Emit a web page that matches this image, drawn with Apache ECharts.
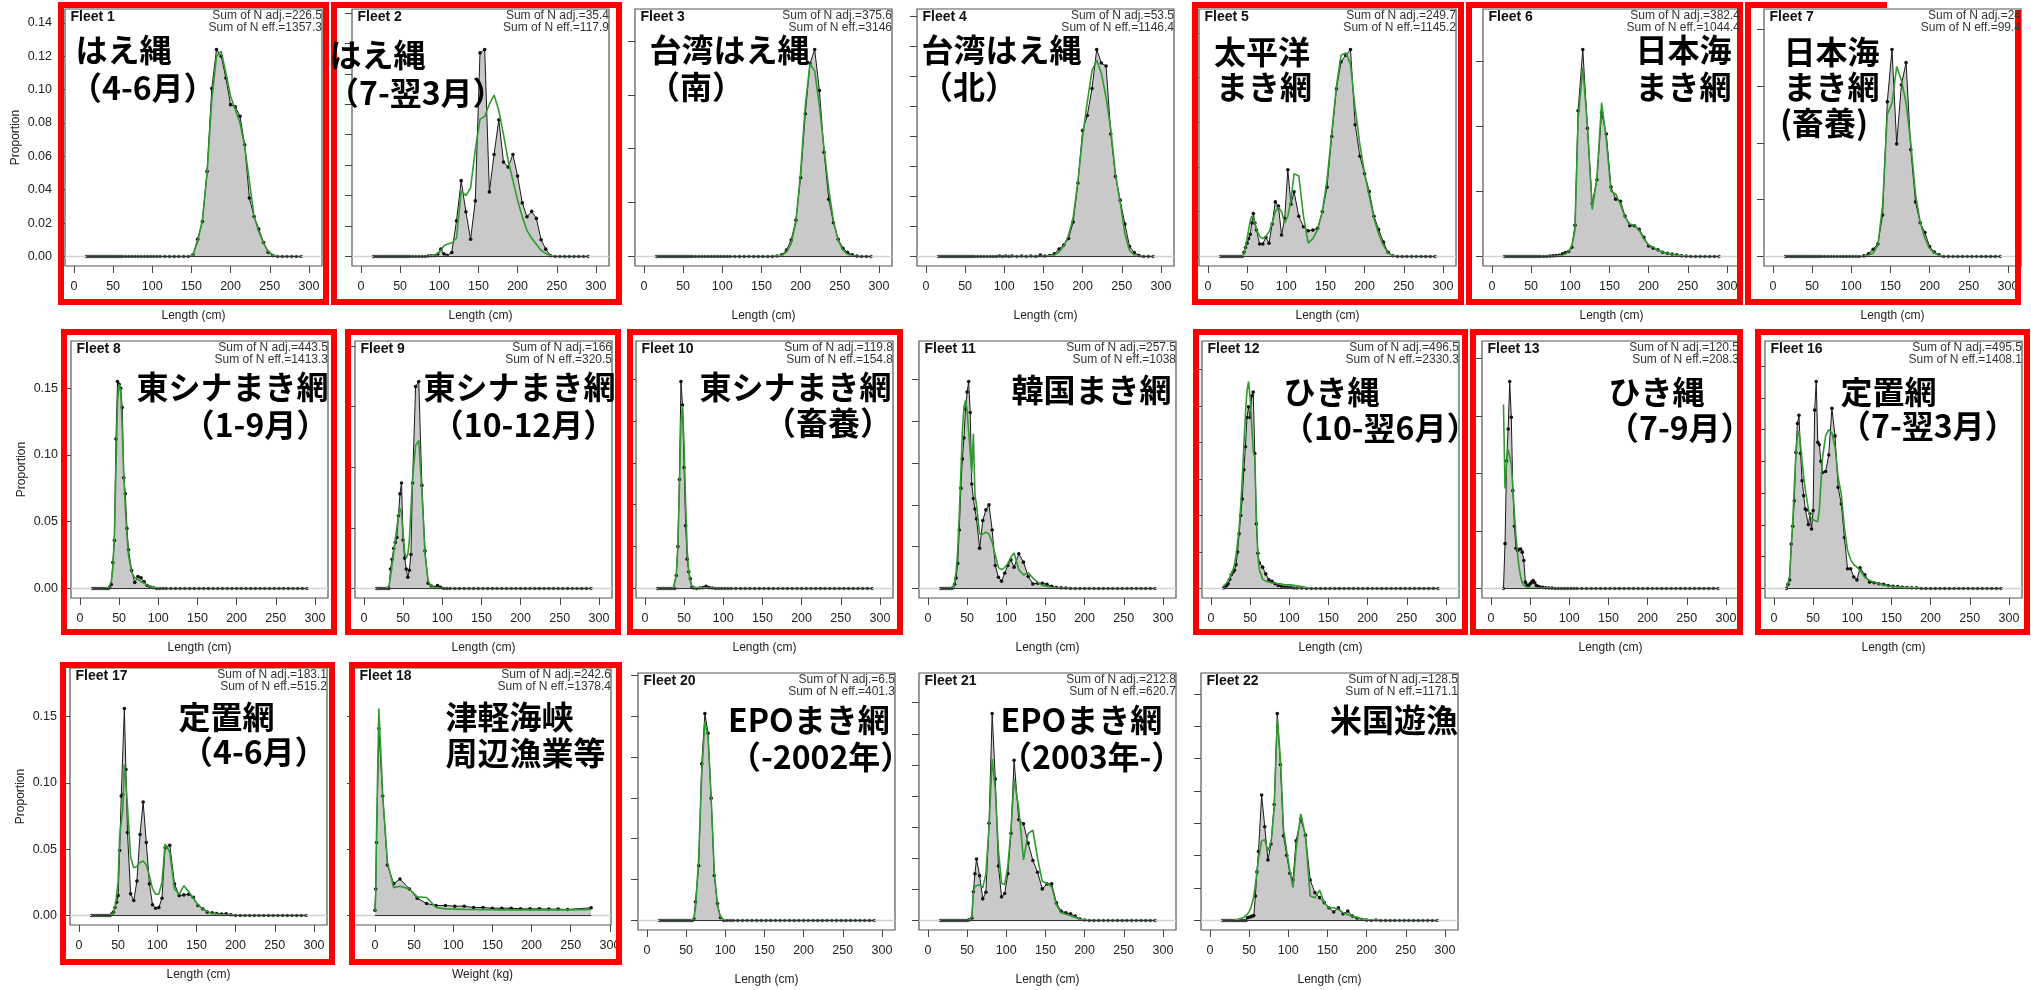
<!DOCTYPE html>
<html>
<head>
<meta charset="utf-8">
<script src="https://cdn.jsdelivr.net/npm/echarts@6.0.0/dist/echarts.min.js"></script>
<style>
  html, body { margin: 0; padding: 0; background: #fff; }
  #chart { width: 2031px; height: 990px; }
</style>
</head>
<body>
<div id="chart"></div>
<script>
// length bins (cm): 2cm to 62, 4cm to 106, 6cm to 290
const lenBins = [16,18,20,22,24,26,28,30,32,34,36,38,40,42,44,46,48,50,52,54,56,58,60,62,
  66,70,74,78,82,86,90,94,98,102,106,
  110,116,122,128,134,140,146,152,158,164,170,176,182,188,194,200,206,212,218,224,230,236,242,248,254,260,266,272,278,284,290];
// weight bins (kg) for fleet 18
const wtBins = [0,1,2,5,10,16,24,32,44,54,66,78,90,102,114,126,138,150,162,174,186,198,210,222,234,246,276];
const xTickValues = [0, 50, 100, 150, 200, 250, 300];

// observed / expected proportions, one pair per fleet
const obsF1 = [0,0,0,0,0,0,0,0,0,0, 0,0,0,0,0,0,0,0,0,0, 0,0,0,0,
  0,0,0,0,0,0,0,0,0,0,0,
  0,0,0,0,0,0,0,0.001,0.0104,0.021,0.051,0.1007,0.124,0.12,0.107,0.091,0.0897,0.084,0.067,0.035,0.024,0.0164,0.0084,0.0026,0.0005,0,0,0,0,0,0];
const expF1 = [0,0,0,0,0,0,0,0,0,0, 0,0,0,0,0,0,0,0,0,0, 0,0,0,0,
  0,0,0,0,0,0,0,0,0,0,0,
  0,0,0,0,0,0,0,0.001,0.009,0.022,0.05,0.094,0.12,0.123,0.11,0.096,0.088,0.08,0.066,0.045,0.024,0.015,0.008,0.003,0.001,0,0,0,0,0,0];

const obsF2 = [0,0,0,0,0,0,0,0,0,0, 0,0,0,0,0,0,0,0,0,0, 0,0,0,0,
  0,0,0,0,0,0.0003,0.0005,0.0005,0.0015,0.0048,0.0017,
  0.0007,0.0026,0.0235,0.0498,0.0293,0.0113,0.0365,0.1337,0.1359,0.0424,0.067,0.0898,0.062,0.0587,0.067,0.0528,0.0352,0.0261,0.0296,0.025,0.011,0.0048,0.0005,0,0,0,0,0,0,0,0];
const expF2 = [0,0,0,0,0,0,0,0,0,0, 0,0,0,0,0,0,0,0,0,0, 0,0,0,0,
  0,0,0,0,0,0,0.0005,0.001,0.002,0.004,0.007,
  0.008,0.009,0.012,0.043,0.04,0.045,0.07,0.09,0.092,0.1,0.106,0.096,0.08,0.063,0.05,0.037,0.026,0.017,0.012,0.008,0.004,0.002,0.0005,0,0,0,0,0,0,0,0];

const obsF3 = [0,0,0,0,0,0,0,0,0,0, 0,0,0,0,0,0,0,0,0,0, 0,0,0,0,
  0,0,0,0,0,0,0,0,0,0,0,
  0,0,0,0,0,0,0,0,0,0,0.0005,0.0015,0.006,0.0153,0.0337,0.073,0.1325,0.179,0.192,0.154,0.0966,0.053,0.0313,0.016,0.0077,0.0037,0.0015,0.0003,0,0,0];
const expF3 = [0,0,0,0,0,0,0,0,0,0, 0,0,0,0,0,0,0,0,0,0, 0,0,0,0,
  0,0,0,0,0,0,0,0,0,0,0,
  0,0,0,0,0,0,0,0,0,0,0.0005,0.001,0.004,0.012,0.032,0.078,0.14,0.179,0.172,0.14,0.1,0.062,0.033,0.015,0.006,0.002,0.0005,0,0,0,0];

const obsF4 = [0,0,0,0,0,0,0,0,0,0, 0,0,0,0,0,0,0,0,0,0, 0,0,0,0,
  0,0,0,0,0,0,0,0.0003,0,0.0003,0,
  0.0003,0,0.0003,0,0.0003,0,0.001,0.0003,0.0007,0.0018,0.005,0.0077,0.012,0.023,0.049,0.084,0.094,0.112,0.138,0.129,0.127,0.0817,0.0534,0.0375,0.0216,0.0066,0.0026,0.0007,0,0,0];
const expF4 = [0,0,0,0,0,0,0,0,0,0, 0,0,0,0,0,0,0,0,0,0, 0,0,0,0,
  0,0,0,0,0,0,0,0,0,0,0,
  0,0,0,0,0,0,0,0,0.0005,0.001,0.003,0.007,0.014,0.026,0.05,0.08,0.103,0.124,0.131,0.122,0.106,0.085,0.055,0.036,0.015,0.004,0.001,0,0,0,0];

const obsF5 = [0,0,0,0,0,0,0,0,0,0, 0,0,0,0,0,0.0019,0.004,0.0059,0.008,0.0099,0.015,0.0192,0.015,0.0118,
  0.0056,0.0056,0.0086,0.0059,0.0145,0.0244,0.0225,0.0096,0.017,0.0388,0.0234,
  0.0289,0.018,0.0133,0.0115,0.0118,0.0126,0.02,0.031,0.0536,0.075,0.087,0.09,0.0925,0.0589,0.0448,0.037,0.029,0.018,0.012,0.0064,0.0019,0.0003,0,0,0,0,0,0,0,0,0];
const expF5 = [0,0,0,0,0,0,0,0,0,0, 0,0,0,0,0,0.001,0.004,0.008,0.012,0.016,0.018,0.017,0.015,0.012,
  0.009,0.008,0.009,0.011,0.015,0.02,0.022,0.02,0.015,0.018,0.025,
  0.037,0.036,0.018,0.006,0.008,0.012,0.02,0.034,0.055,0.076,0.09,0.091,0.086,0.066,0.05,0.037,0.027,0.017,0.01,0.005,0.0015,0.0003,0,0,0,0,0,0,0,0,0];

const obsF6 = [0,0,0,0,0,0,0,0,0,0, 0,0,0,0,0,0,0,0,0,0, 0,0,0,0,
  0,0,0.0003,0.0005,0.0008,0.001,0.002,0.003,0.0038,0.007,0.024,
  0.1118,0.1588,0.0983,0.0406,0.0589,0.1105,0.094,0.0533,0.044,0.0424,0.031,0.0236,0.0236,0.0208,0.0147,0.0081,0.0064,0.0051,0.0033,0.0025,0.0018,0.0013,0.0005,0.0003,0,0,0,0,0,0,0];
const expF6 = [0,0,0,0,0,0,0,0,0,0, 0,0,0,0,0,0,0,0,0,0, 0,0,0,0,
  0,0,0,0,0,0.0005,0.001,0.002,0.004,0.008,0.02,
  0.105,0.145,0.1,0.036,0.06,0.118,0.09,0.05,0.048,0.04,0.03,0.025,0.024,0.02,0.0135,0.009,0.007,0.005,0.0035,0.0025,0.0018,0.0012,0.0006,0.0003,0,0,0,0,0,0,0];

const obsF7 = [0,0,0,0,0,0,0,0,0,0, 0,0,0,0,0,0,0,0,0,0, 0,0,0,0,
  0,0,0,0,0,0,0,0,0,0,0,
  0,0.0005,0.0023,0.0064,0.011,0.0364,0.136,0.182,0.099,0.151,0.1705,0.094,0.048,0.0297,0.021,0.0087,0.0038,0.0015, 0,0,0,0,0,0,0,0,0,0,0,0,0];
const expF7 = [0,0,0,0,0,0,0,0,0,0, 0,0,0,0,0,0,0,0,0,0, 0,0,0,0,
  0,0,0,0,0,0,0,0,0,0,0,
  0,0,0.001,0.003,0.01,0.045,0.125,0.135,0.167,0.155,0.135,0.1,0.055,0.03,0.016,0.007,0.003,0.001, 0,0,0,0,0,0,0,0,0,0,0,0,0];

const obsF8 = [0,0,0,0,0,0,0,0,0,0,0,0.0005,0.003,0.0195,0.036,0.112,0.155,0.153,0.15,0.1355,0.083,0.071,0.045,0.029,
  0.0135,0.0045,0.009,0.008,0.005,0.0022,0.001,0.0005,0,0,0,
  0,0,0,0,0,0,0,0,0,0, 0,0,0,0,0,0,0,0,0,0, 0,0,0,0,0,0,0,0,0,0, 0];
const expF8 = [0,0,0,0,0,0,0,0,0,0,0.0005,0.001,0.005,0.015,0.04,0.09,0.14,0.153,0.148,0.12,0.085,0.06,0.04,0.025,
  0.012,0.008,0.007,0.005,0.004,0.0025,0.0015,0.001,0.0005,0.0002,0,
  0,0,0,0,0,0,0,0,0,0, 0,0,0,0,0,0,0,0,0,0, 0,0,0,0,0,0,0,0,0,0, 0];

const obsF9 = [0,0,0,0,0,0,0,0,0,0.016,0.024,0.033,0.038,0.042,0.06,0.078,0.087,0.04,0.025,0.016,0.0093,0.015,0.028,0.087,
  0.1665,0.1706,0.085,0.031,0.0044,0.002,0.001,0.0025,0.001,0,0,
  0,0,0,0,0,0,0,0,0,0, 0,0,0,0,0,0,0,0,0,0, 0,0,0,0,0,0,0,0,0,0, 0];
const expF9 = [0,0,0,0,0,0,0,0.0005,0.002,0.01,0.02,0.03,0.04,0.05,0.06,0.066,0.062,0.045,0.03,0.025,0.028,0.04,0.065,0.09,
  0.118,0.122,0.08,0.028,0.006,0.002,0.001,0.0005,0,0,0,
  0,0,0,0,0,0,0,0,0,0, 0,0,0,0,0,0,0,0,0,0, 0,0,0,0,0,0,0,0,0,0, 0];

const obsF10 = [0,0,0,0,0,0,0,0,0,0,0,0,0.0155,0.05,0.13,0.247,0.219,0.1445,0.075,0.035,0.02,0.0115,0.0016,0.0005,
  0,0.0005,0.001,0.0025,0.001,0.0005,0,0,0,0,0,
  0,0,0,0,0,0,0,0,0,0, 0,0,0,0,0,0,0,0,0,0, 0,0,0,0,0,0,0,0,0,0, 0];
const expF10 = [0,0,0,0,0,0,0,0,0,0,0,0.002,0.015,0.05,0.12,0.2,0.218,0.17,0.1,0.045,0.02,0.008,0.003,0.001,
  0.0005,0.0005,0.0005,0.0005,0.0003,0.0002,0,0,0,0,0,
  0,0,0,0,0,0,0,0,0,0, 0,0,0,0,0,0,0,0,0,0, 0,0,0,0,0,0,0,0,0,0, 0];

const obsF11 = [0,0,0,0,0,0,0,0,0.0003,0.002,0.005,0.012,0.028,0.048,0.062,0.072,0.0858,0.094,0.099,0.0842,0.05,0.043,0.038,0.0333,
  0.0193,0.0325,0.0376,0.04,0.028,0.011,0.0054,0.0035,0.0073,0.011,0.0137,
  0.0102,0.0166,0.0126,0.0057,0.0022,0.0025,0.0025,0.002,0.001,0.0005,0.0003,0.0002, 0,0,0,0,0,0,0,0,0,0, 0,0,0,0,0,0,0,0,0];
const expF11 = [0,0,0,0,0,0,0,0,0,0.003,0.008,0.018,0.035,0.055,0.075,0.087,0.09,0.085,0.075,0.065,0.055,0.074,0.045,0.04,
  0.026,0.026,0.027,0.026,0.022,0.016,0.01,0.009,0.01,0.012,0.015,
  0.017,0.009,0.0065,0.0075,0.005,0.003,0.0015,0.001,0.0005,0.0002, 0,0,0,0,0,0,0,0,0,0, 0,0,0,0,0,0,0,0,0,0, 0];

const obsF12 = [0.0003,0.0005,0.0015,0.0026,0.005,0.0075,0.0089,0.01,0.013,0.02,0.03,0.04,0.049,0.065,0.0777,0.0937,0.0995,0.0937,0.1056,0.1077,0.074,0.0354,0.0193,0.014,
  0.0117,0.008,0.0047,0.004,0.0026,0.0016,0.0011,0.0008,0.0006,0.0005,0.0003,
  0.0003,0.0002, 0,0,0,0,0,0,0,0,0,0, 0,0,0,0,0,0,0,0,0,0, 0,0,0,0,0,0,0,0,0];
const expF12 = [0.0015,0.002,0.003,0.004,0.006,0.008,0.01,0.013,0.018,0.025,0.033,0.045,0.06,0.078,0.095,0.108,0.1134,0.105,0.09,0.075,0.072,0.04,0.018,0.01,
  0.005,0.004,0.0035,0.003,0.003,0.0025,0.0025,0.002,0.002,0.002,0.0018,
  0.0015,0.001,0.0005, 0,0,0,0,0,0,0,0,0,0, 0,0,0,0,0,0,0,0,0,0, 0,0,0,0,0,0,0,0];

const obsF13 = [0,0.039,0.111,0.1387,0.18,0.149,0.0851,0.0541,0.035,0.033,0.034,0.0344,0.0316,0.0243,0.0055,0.003,0.0026,0.004,0.0055,0.007,0.005,0.0026,0.002,0.0015,
  0.001,0.0006,0.0004,0.0003,0,0,0,0,0,0,0,
  0,0,0,0,0,0,0,0,0,0, 0,0,0,0,0,0,0,0,0,0, 0,0,0,0,0,0,0,0,0,0, 0];
const expF13 = [0.16,0.087,0.11,0.121,0.12,0.108,0.087,0.065,0.045,0.03,0.018,0.01,0.005,0.003,0.0015,0.001,0.0008,0.0006,0.0005,0.0004,0.0003,0.0003,0.0002,0.0002,
  0.0002,0.0001,0.0001,0,0,0,0,0,0,0,0,
  0,0,0,0,0,0,0,0,0,0, 0,0,0,0,0,0,0,0,0,0, 0,0,0,0,0,0,0,0,0,0, 0];

const obsF16 = [0,0.0013,0.0027,0.014,0.0196,0.0276,0.0428,0.0519,0.0545,0.0425,0.0339,0.0292,0.025,0.0247,0.0201,0.0235,0.0187,0.0245,0.0561,0.0651,0.046,0.0452,0.04,0.0365,
  0.0368,0.042,0.0567,0.048,0.0318,0.0266,0.016,0.0062,0.0062,0.0036,0.0027,
  0.0065,0.0043,0.002,0.0018,0.0015,0.0013,0.0009,0.0007,0.0006,0.0004,0.0003,0.0002,0.0002, 0,0,0,0,0,0,0,0,0,0, 0,0,0,0,0,0,0,0];
const expF16 = [0.0005,0.0015,0.004,0.012,0.021,0.032,0.042,0.048,0.0496,0.045,0.04,0.035,0.031,0.028,0.025,0.023,0.022,0.0214,0.0214,0.0214,0.021,0.025,0.033,0.041,
  0.048,0.05,0.049,0.0444,0.035,0.0297,0.019,0.012,0.009,0.0075,0.0067,
  0.0057,0.0035,0.0025,0.002,0.0015,0.001,0.0008,0.0006,0.0005,0.0004,0.0003,0.0002,0.0002, 0,0,0,0,0,0,0,0,0,0, 0,0,0,0,0,0,0,0];

const obsF17 = [0,0,0,0,0,0,0,0,0,0,0,0,0, 0.001,0.0025,0.006,0.01,0.015,0.049,0.09,0.091,0.156,0.11,0.0625,
  0.0163,0.0113,0.026,0.061,0.0855,0.055,0.0238,0.008,0.0055,0.006,0.013,
  0.051,0.053,0.0238,0.015,0.0155,0.016,0.0138,0.0075,0.005,0.0025,0.002,0.0015,0.001,0.0013,0.0005, 0,0,0,0,0,0,0,0,0,0, 0,0,0,0,0,0];
const expF17 = [0,0,0,0,0,0,0,0,0,0,0,0,0, 0.0005,0.002,0.006,0.015,0.025,0.06,0.061,0.08,0.1138,0.1,0.0825,
  0.044,0.036,0.037,0.04,0.041,0.038,0.03,0.02,0.016,0.016,0.025,
  0.054,0.0475,0.02,0.016,0.0225,0.018,0.013,0.008,0.005,0.003,0.0015,0.001,0.0005,0.0003,0.0002, 0,0,0,0,0,0,0,0,0,0, 0,0,0,0,0,0];

const obsF18 = [0.004,0.02,0.055,0.141,0.09,0.038,0.024,0.0275,0.02,0.013,0.009,0.0075,0.0075,0.007,0.007,0.006,0.006,0.0055,0.0055,0.0055,0.005,0.005,0.005,0.0048,0.0048,0.0045,0.0058];
const expF18 = [0.003,0.015,0.06,0.156,0.09,0.04,0.021,0.022,0.02,0.014,0.0135,0.006,0.005,0.0048,0.0046,0.0045,0.0044,0.0043,0.0042,0.0042,0.0042,0.0042,0.0042,0.0042,0.0042,0.0042,0.0045];

const obsF20 = [0,0,0,0,0,0,0,0,0,0, 0,0,0,0,0,0,0,0,0,0, 0,0,0.002,0.0228,
  0.067,0.1915,0.253,0.229,0.1496,0.0549,0.0207,0.0033,0,0,0,
  0,0,0,0,0,0,0,0,0,0, 0,0,0,0,0,0,0,0,0,0, 0,0,0,0,0,0,0,0,0,0, 0];
const expF20 = [0,0,0,0,0,0,0,0,0,0, 0,0,0,0,0,0,0,0,0,0, 0,0.0005,0.003,0.015,
  0.075,0.18,0.243,0.225,0.15,0.06,0.018,0.004,0.001,0,0,
  0,0,0,0,0,0,0,0,0,0, 0,0,0,0,0,0,0,0,0,0, 0,0,0,0,0,0,0,0,0,0, 0];

const obsF21 = [0,0,0,0,0,0,0,0,0,0, 0,0,0,0,0,0,0,0, 0.0003,0.0006,0.0015,0.0184,0.03,0.0395,
  0.0288,0.0139,0.0181,0.0625,0.133,0.0909,0.035,0.0152,0.0173,0.03,0.0561,
  0.103,0.0647,0.0621,0.0497,0.0386,0.031,0.0203,0.0235,0.0235,0.0113,0.006,0.0049,0.0043,0.0028,0.001,0.0003, 0,0,0,0,0,0,0,0,0,0, 0,0,0,0,0];
const expF21 = [0,0,0,0,0,0,0,0,0,0, 0,0,0,0,0,0,0,0,0, 0.0005,0.002,0.018,0.022,0.023,
  0.023,0.021,0.03,0.06,0.1037,0.084,0.045,0.024,0.023,0.035,0.058,
  0.091,0.072,0.039,0.056,0.058,0.04,0.025,0.024,0.0216,0.01,0.005,0.004,0.003,0.002,0.001,0.0003, 0,0,0,0,0,0,0,0,0,0, 0,0,0,0,0];

const obsF22 = [0,0,0,0,0,0,0,0,0,0, 0,0,0,0,0,0, 0.0017,0.002,0.0023,0.0027,0.003,0.0151,0.03,0.0426,
  0.0775,0.0579,0.0374,0.0472,0.0716,0.1278,0.0962,0.0523,0.0403,0.0292,0.025,
  0.0492,0.0627,0.0527,0.025,0.0172,0.0141,0.011,0.0079,0.0052,0.0079,0.0041,0.0058,0.0027,0.0014,0.0006,0.0002,0,0.0003, 0,0,0,0,0,0,0,0,0,0, 0,0,0];
const expF22 = [0,0,0,0,0,0,0, 0.0002,0.0003,0.0005,0.0007,0.001,0.0013,0.0017,0.0022,0.003,0.004,0.0055,0.0075,0.011,0.015,0.022,0.03,0.038,
  0.049,0.05,0.043,0.048,0.069,0.1247,0.1,0.056,0.043,0.0306,0.0203,
  0.044,0.0658,0.052,0.0151,0.014,0.0188,0.011,0.0079,0.0079,0.0068,0.0048,0.0035,0.0027,0.0018,0.001,0.0006,0.0003,0.0002, 0,0,0,0,0,0,0,0,0,0, 0,0,0];

const fleetNo = [1,2,3,4,5,6,7, 8,9,10,11,12,13,16, 17,18,20,21,22];
const sumAdj = ['226.5','35.4','375.6','53.5','249.7','382.4','24', '443.5','166','119.8','257.5','496.5','120.5','495.5', '183.1','242.6','6.5','212.8','128.5'];
const sumEff = ['1357.3','117.9','3146','1146.4','1145.2','1044.4','99.4', '1413.3','320.5','154.8','1038','2330.3','208.3','1408.1', '515.2','1378.4','401.3','620.7','1171.1'];
const obsList = [obsF1,obsF2,obsF3,obsF4,obsF5,obsF6,obsF7, obsF8,obsF9,obsF10,obsF11,obsF12,obsF13,obsF16, obsF17,obsF18,obsF20,obsF21,obsF22];
const expList = [expF1,expF2,expF3,expF4,expF5,expF6,expF7, expF8,expF9,expF10,expF11,expF12,expF13,expF16, expF17,expF18,expF20,expF21,expF22];
const yStep = [0.02,0.02,0.05,0.02,0.02,0.05,0.05, 0.05,0.05,0.05,0.02,0.02,0.05,0.01, 0.05,0.05,0.05,0.02,0.02];

// gear labels drawn over the panels
const gearLabels = [
  ['はえ縄', 75.5, 50], ['（4-6月）', 70, 88],
  ['はえ縄', 329.5, 55], ['（7-翌3月）', 327, 93],
  ['台湾はえ縄', 649.5, 50], ['（南）', 648, 87],
  ['台湾はえ縄', 921.5, 50], ['（北）', 921, 87],
  ['太平洋', 1214, 52], ['まき網', 1216, 87],
  ['日本海', 1635.5, 50], ['まき網', 1635.5, 87],
  ['日本海', 1783.5, 52], ['まき網', 1783.5, 87], ['(畜養)', 1780, 123],
  ['東シナまき網', 136.5, 387], ['（1-9月）', 182.7, 425],
  ['東シナまき網', 423.5, 387], ['（10-12月）', 431.8, 425],
  ['東シナまき網', 699.5, 387], ['（畜養）', 764, 423],
  ['韓国まき網', 1011.5, 390],
  ['ひき縄', 1283.5, 392], ['（10-翌6月）', 1282, 428],
  ['ひき縄', 1608.5, 392], ['（7-9月）', 1607, 428],
  ['定置網', 1840.5, 392], ['（7-翌3月）', 1839, 426],
  ['定置網', 178.5, 717], ['（4-6月）', 181, 752],
  ['津軽海峡', 445.5, 717], ['周辺漁業等', 445.5, 753],
  ['EPOまき網', 728, 720], ['（-2002年）', 729, 757],
  ['EPOまき網', 1000.5, 720], ['（2003年-）', 1000, 757],
  ['米国遊漁', 1330, 720]
];

// panel placement (plot box left/top, px)
const panelPos = [
  [65, 9], [352, 9], [635, 9], [917, 9], [1199, 9], [1483, 9], [1764, 9],
  [71, 341], [355, 341], [636, 341], [919, 341], [1202, 341], [1482, 341], [1765, 341],
  [70, 668], [354, 668], [638, 673], [919, 673], [1201, 673]
];
const BOX = 257;
const redBoxes = [
  [58, 2, 329, 305], [331, 2, 622, 305], [1192, 2, 1464, 305], [1466, 2, 1743, 305],
  [61, 329, 337, 635], [345, 329, 621, 635], [627, 329, 903, 635], [1193, 329, 1468, 635], [1470, 329, 1743, 635], [1755, 329, 2030, 635],
  [60, 662, 335, 965], [349, 662, 622, 965]
];

const FONT = '"Liberation Sans", Arial, sans-serif';
const grids = [], xAxes = [], yAxes = [], series = [], elements = [];

function textEl(text, x, y, style) {
  return {
    type: 'text', x: x, y: y, silent: true, z: style.z || 110,
    style: Object.assign({
      text: text, fill: '#111', fontFamily: FONT, fontSize: 12,
      align: 'left', verticalAlign: 'middle', textAlign: 'left', textVerticalAlign: 'middle'
    }, style)
  };
}

panelPos.forEach(function (pos, i) {
  const isWeight = fleetNo[i] === 18;
  const bins = isWeight ? wtBins : lenBins;
  const obs = obsList[i], exp = expList[i];
  if (obs.length !== bins.length || exp.length !== bins.length) {
    throw new Error('length mismatch fleet ' + fleetNo[i] + ': ' + obs.length + '/' + exp.length + ' vs ' + bins.length);
  }
  const left = pos[0], top = pos[1];
  const ymax = 1.15 * Math.max.apply(null, obs.concat(exp));
  const yTicks = [];
  for (let k = 0; k * yStep[i] <= 1.04 * ymax; k++) yTicks.push(+(k * yStep[i]).toFixed(4));
  const showY = (i === 0 || i === 7 || i === 14);

  grids.push({
    left: left, top: top, width: BOX, height: BOX,
    show: true, borderColor: '#555', borderWidth: 1.2, backgroundColor: 'transparent',
    containLabel: false, outerBoundsMode: 'none'
  });
  xAxes.push({
    gridIndex: i, type: 'value', position: 'bottom',
    min: isWeight ? -26.7 : -11.4, max: isWeight ? 301.4 : 316.7,
    axisLine: { show: false, onZero: false },
    axisTick: { show: true, length: 7, lineStyle: { color: '#444', width: 1 }, customValues: xTickValues },
    axisLabel: { show: true, customValues: xTickValues, margin: 14, fontSize: 12.5, color: '#222', fontFamily: FONT },
    splitLine: { show: false },
    name: isWeight ? 'Weight (kg)' : 'Length (cm)', nameLocation: 'middle', nameGap: 44,
    nameTextStyle: { fontSize: 12, color: '#222', fontFamily: FONT }
  });
  yAxes.push({
    gridIndex: i, type: 'value', position: 'left',
    min: -0.04 * ymax, max: 1.04 * ymax,
    axisLine: { show: false, onZero: false },
    axisTick: { show: true, length: 7, lineStyle: { color: '#444', width: 1 }, customValues: yTicks },
    axisLabel: { show: showY, customValues: yTicks, formatter: function (v) { return v.toFixed(2); }, margin: 13, fontSize: 12.5, color: '#222', fontFamily: FONT },
    splitLine: { show: false },
    name: showY ? 'Proportion' : '', nameLocation: 'middle', nameGap: 43, nameRotate: 90,
    nameTextStyle: { fontSize: 12, color: '#222', fontFamily: FONT }
  });

  series.push({
    type: 'line', xAxisIndex: i, yAxisIndex: i, silent: true, animation: false, z: 2,
    data: bins.map(function (b, k) { return [b, obs[k]]; }),
    symbol: 'circle', symbolSize: 3.6, showSymbol: true,
    lineStyle: { color: '#1a1a1a', width: 1 },
    itemStyle: { color: '#111', borderWidth: 0 },
    areaStyle: { color: '#c9c9c9', opacity: 1 },
    emphasis: { disabled: true },
    markLine: {
      silent: true, symbol: 'none', animation: false, label: { show: false },
      lineStyle: { type: 'solid' },
      data: [
        { yAxis: 0, lineStyle: { color: '#d2d2d2', width: 1.3, type: 'solid' } },
        [{ coord: [bins[0], 0], lineStyle: { color: '#333', width: 1, type: 'solid' } },
         { coord: [bins[bins.length - 1], 0], lineStyle: { color: '#333', width: 1, type: 'solid' } }]
      ]
    }
  });
  series.push({
    type: 'line', xAxisIndex: i, yAxisIndex: i, silent: true, animation: false, z: 3,
    data: bins.map(function (b, k) { return [b, exp[k]]; }),
    symbol: 'none',
    lineStyle: { color: '#2f9a2f', width: 1.6 },
    emphasis: { disabled: true }
  });

  elements.push(textEl('Fleet ' + fleetNo[i], left + 5.5, top + 8.5, { fontSize: 14, fontWeight: 'bold', fill: '#111', z: 105 }));
  elements.push(textEl('Sum of N adj.=' + sumAdj[i], left + BOX, top + 6.6, { align: 'right', textAlign: 'right', fill: '#333', z: 105 }));
  elements.push(textEl('Sum of N eff.=' + sumEff[i], left + BOX, top + 18.3, { align: 'right', textAlign: 'right', fill: '#333', z: 105 }));
});

redBoxes.forEach(function (r) {
  elements.push({
    type: 'rect', silent: true, z: 100,
    shape: { x: r[0] + 3, y: r[1] + 3, width: r[2] - r[0] - 6, height: r[3] - r[1] - 6 },
    style: { fill: 'none', stroke: '#ff0000', lineWidth: 6 }
  });
});
// fleet 7 frame is open on the top right
elements.push({
  type: 'polyline', silent: true, z: 100,
  shape: { points: [[1887, 5], [1748, 5], [1748, 302], [2018, 302], [2018, 10]] },
  style: { fill: 'none', stroke: '#ff0000', lineWidth: 6 }
});

gearLabels.forEach(function (g) {
  elements.push(textEl(g[0], g[1], g[2], {
    fontSize: 32, fontWeight: 'bold', fill: '#000', z: 120,
    fontFamily: '"Noto Sans CJK JP", "Noto Sans CJK SC", sans-serif'
  }));
});

const chart = echarts.init(document.getElementById('chart'));
chart.setOption({
  animation: false,
  backgroundColor: '#ffffff',
  grid: grids,
  xAxis: xAxes,
  yAxis: yAxes,
  series: series,
  graphic: { elements: elements }
});
</script>
</body>
</html>
